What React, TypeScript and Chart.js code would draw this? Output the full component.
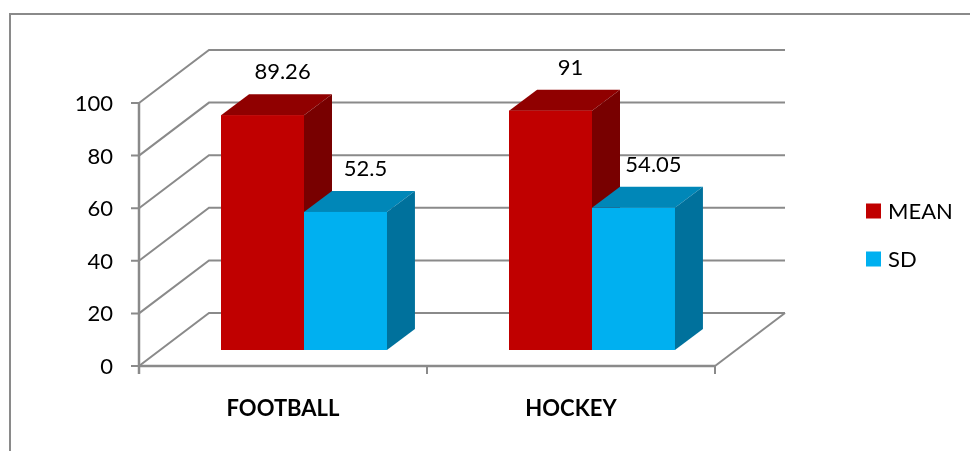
import React, { useEffect, useRef } from "react";
import { Chart, registerables } from "chart.js";

Chart.register(...registerables);

const categories = ["FOOTBALL", "HOCKEY"];
const seriesNames = ["MEAN", "SD"];
const meanValues = [89.26, 91];
const sdValues = [52.5, 54.05];
const valueLabels = [["89.26", "91"], ["52.5", "54.05"]];
const yTicks = [0, 20, 40, 60, 80, 100];

const FRONT_COLORS = ["#C00000", "#00B0F0"];
const TOP_COLORS = ["#900000", "#0087B8"];
const SIDE_COLORS = ["#780000", "#00719C"];

const GRID = "#8a8a8a";
const FONT = "Lato, 'Open Sans', sans-serif";

// depth geometry relative to the bar plane (chart area)
const FRONT_DX = -21, FRONT_DY = 16;
const BACK_DX = 49, BACK_DY = -37;
const BAR_DX = 28, BAR_DY = -21;

const threeD = {
  id: "threeD",
  beforeDatasetsDraw(chart: any) {
    const ctx = chart.ctx;
    const ys = chart.scales.y;
    const xs = chart.scales.x;
    const ca = chart.chartArea;
    ctx.save();
    // outer frame
    ctx.strokeStyle = GRID;
    ctx.lineWidth = 2;
    ctx.strokeRect(10, 14, 980, 460);

    ctx.lineWidth = 2;
    ctx.strokeStyle = GRID;
    const fl = ca.left + FRONT_DX;
    const fr = ca.right + FRONT_DX;
    const bl = ca.left + BACK_DX;
    const br = ca.right + BACK_DX;
    // back wall gridlines and left wall diagonals
    for (const t of yTicks) {
      const y = ys.getPixelForValue(t);
      ctx.beginPath();
      ctx.moveTo(fl, y + FRONT_DY);
      ctx.lineTo(bl, y + BACK_DY);
      ctx.lineTo(br, y + BACK_DY);
      ctx.stroke();
    }
    // floor right edge
    const y0 = ys.getPixelForValue(0);
    ctx.beginPath();
    ctx.moveTo(fr, y0 + FRONT_DY);
    ctx.lineTo(br, y0 + BACK_DY);
    ctx.stroke();

    // front axes
    ctx.lineWidth = 2.5;
    const yTop = ys.getPixelForValue(yTicks[yTicks.length - 1]) + FRONT_DY;
    const yBot = y0 + FRONT_DY;
    ctx.beginPath();
    ctx.moveTo(fl, yTop);
    ctx.lineTo(fl, yBot + 8);
    ctx.moveTo(fl, yBot);
    ctx.lineTo(fr, yBot);
    ctx.stroke();
    ctx.lineWidth = 2;
    ctx.beginPath();
    for (const t of yTicks) {
      const y = ys.getPixelForValue(t) + FRONT_DY;
      ctx.moveTo(fl - 8, y);
      ctx.lineTo(fl, y);
    }
    // category boundary ticks
    const n = categories.length;
    for (let i = 0; i <= n; i++) {
      const x = fl + ((fr - fl) * i) / n;
      ctx.moveTo(x, yBot);
      ctx.lineTo(x, yBot + 8);
    }
    ctx.stroke();

    // y tick labels
    ctx.fillStyle = "#000";
    ctx.font = `22px ${FONT}`;
    ctx.textAlign = "right";
    ctx.textBaseline = "middle";
    for (const t of yTicks) {
      const y = ys.getPixelForValue(t) + FRONT_DY;
      ctx.fillText(String(t), fl - 26, y + 1);
    }
    // category labels
    ctx.font = `bold 22px ${FONT}`;
    ctx.textAlign = "center";
    categories.forEach((c, i) => {
      const x = xs.getPixelForValue(i) + FRONT_DX;
      ctx.fillText(c, x, 409);
    });

    // legend
    ctx.font = `22px ${FONT}`;
    ctx.textAlign = "left";
    chart.data.datasets.forEach((ds: any, i: number) => {
      const ly = 211 + i * 48;
      ctx.fillStyle = ds.backgroundColor;
      ctx.fillRect(866, ly - 7.5, 15, 15);
      ctx.fillStyle = "#000";
      ctx.fillText(ds.label, 888, ly + 1);
    });
    ctx.restore();
  },
  afterDatasetsDraw(chart: any) {
    const ctx = chart.ctx;
    ctx.save();
    const nCat = categories.length;
    for (let i = 0; i < nCat; i++) {
      chart.data.datasets.forEach((ds: any, d: number) => {
        const bar = chart.getDatasetMeta(d).data[i];
        const { x, y, base, width } = bar.getProps(["x", "y", "base", "width"], true);
        const x1 = x - width / 2;
        const x2 = x + width / 2;
        // top face
        ctx.fillStyle = TOP_COLORS[d];
        ctx.beginPath();
        ctx.moveTo(x1, y);
        ctx.lineTo(x1 + BAR_DX, y + BAR_DY);
        ctx.lineTo(x2 + BAR_DX, y + BAR_DY);
        ctx.lineTo(x2, y);
        ctx.closePath();
        ctx.fill();
        // side face
        ctx.fillStyle = SIDE_COLORS[d];
        ctx.beginPath();
        ctx.moveTo(x2, y);
        ctx.lineTo(x2 + BAR_DX, y + BAR_DY);
        ctx.lineTo(x2 + BAR_DX, base + BAR_DY);
        ctx.lineTo(x2, base);
        ctx.closePath();
        ctx.fill();
        // front face (redrawn on top of the previous bar's side)
        ctx.fillStyle = FRONT_COLORS[d];
        ctx.fillRect(x1, y, width, base - y);
      });
    }
    // value labels
    ctx.fillStyle = "#000";
    ctx.font = `22px ${FONT}`;
    ctx.textAlign = "center";
    ctx.textBaseline = "middle";
    chart.data.datasets.forEach((ds: any, d: number) => {
      chart.getDatasetMeta(d).data.forEach((bar: any, i: number) => {
        const { x, y } = bar.getProps(["x", "y"], true);
        ctx.fillText(valueLabels[d][i], x + 20, y + BAR_DY - 22);
      });
    });
    ctx.restore();
  },
};

export default function App() {
  const ref = useRef<HTMLCanvasElement>(null);
  useEffect(() => {
    const chart = new Chart(ref.current as HTMLCanvasElement, {
      type: "bar",
      data: {
        labels: categories,
        datasets: [
          { label: seriesNames[0], data: meanValues, backgroundColor: FRONT_COLORS[0], borderWidth: 0 },
          { label: seriesNames[1], data: sdValues, backgroundColor: FRONT_COLORS[1], borderWidth: 0 },
        ],
      },
      options: {
        responsive: false,
        animation: false,
        layout: { padding: { left: 160, right: 234, top: 87, bottom: 101 } },
        categoryPercentage: 0.576,
        barPercentage: 1,
        plugins: { legend: { display: false }, tooltip: { enabled: false } },
        scales: {
          x: { display: false, offset: true },
          y: { display: false, min: 0, max: 100 },
        },
      } as any,
      plugins: [threeD],
    });
    return () => chart.destroy();
  }, []);
  return (
    <div style={{ position: "fixed", left: 0, top: 0, width: 970, height: 451, background: "#fff" }}>
      <canvas ref={ref} width={970} height={451} />
    </div>
  );
}
